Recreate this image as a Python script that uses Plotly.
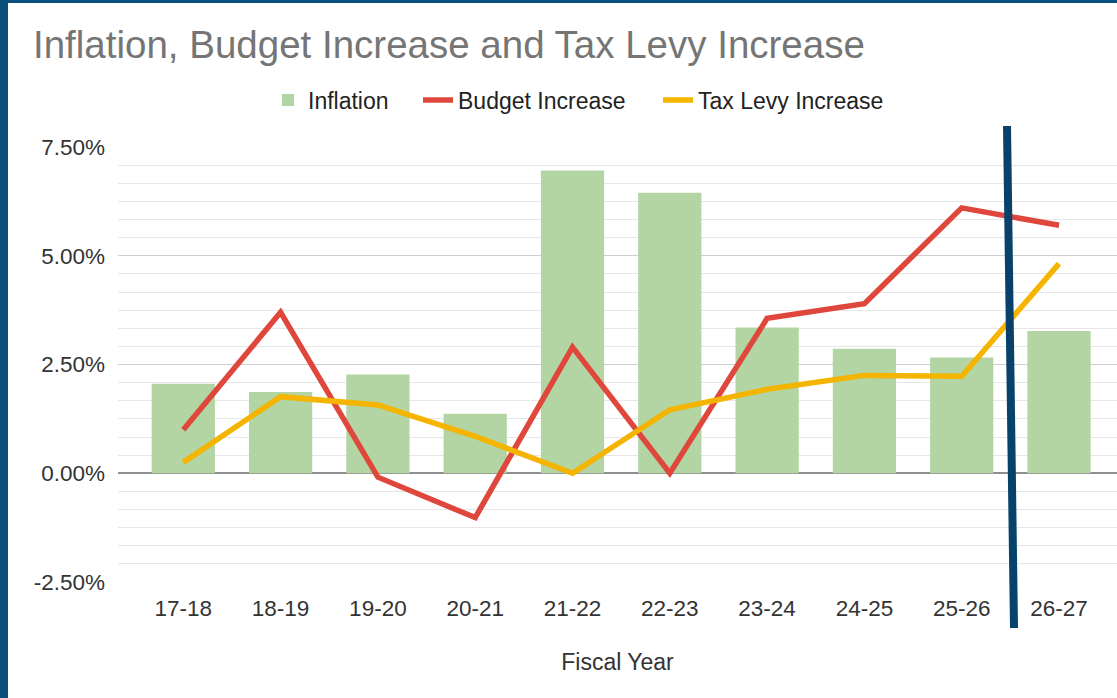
import plotly.graph_objects as go

years = ["17-18", "18-19", "19-20", "20-21", "21-22", "22-23", "23-24", "24-25", "25-26", "26-27"]
inflation = [2.06, 1.87, 2.27, 1.37, 6.96, 6.45, 3.35, 2.86, 2.66, 3.27]
budget_increase = [1.00, 3.70, -0.09, -1.02, 2.90, 0.00, 3.56, 3.90, 6.10, 5.70]
tax_levy_increase = [0.25, 1.76, 1.57, 0.85, 0.00, 1.46, 1.93, 2.25, 2.23, 4.82]
y_tick_values = [-2.5, 0, 2.5, 5, 7.5]
y_tick_labels = ["-2.50%", "0.00%", "2.50%", "5.00%", "7.50%"]

W, H = 1117, 698
L, R, T, B = 118, 0, 147, 116
PW, PH = W - L - R, H - T - B

def px(x):
    return (x - L) / PW

def py(y):
    return (H - B - y) / PH

FONT = "Liberation Sans, Arial, sans-serif"
BORDER = "#0a507d"

fig = go.Figure()
fig.add_trace(go.Bar(x=years, y=inflation, name="Inflation", marker_color="#b3d5a3",
                     marker_line_width=0, width=0.65, legend="legend"))
fig.add_trace(go.Scatter(x=years, y=budget_increase, name="Budget Increase", mode="lines",
                         line=dict(color="#e0473c", width=5.5), legend="legend2"))
fig.add_trace(go.Scatter(x=years, y=tax_levy_increase, name="Tax Levy Increase", mode="lines",
                         line=dict(color="#f4b400", width=5.5), legend="legend3"))

shapes = [
    dict(type="rect", xref="paper", yref="paper", x0=px(0), x1=px(8), y0=py(H), y1=py(0),
         fillcolor=BORDER, line_width=0, layer="above"),
    dict(type="rect", xref="paper", yref="paper", x0=px(0), x1=px(W), y0=py(3), y1=py(0),
         fillcolor=BORDER, line_width=0, layer="above"),
    dict(type="line", xref="paper", yref="paper", x0=px(1007), x1=px(1014), y0=py(126), y1=py(628),
         line=dict(color="#08416a", width=8), layer="above"),
]

def legend_at(left_px):
    return dict(orientation="h", x=px(left_px), xanchor="left", y=py(100), yanchor="middle",
                font=dict(family=FONT, size=23, color="#222222"),
                bgcolor="rgba(0,0,0,0)", itemwidth=30)

fig.update_layout(
    width=W, height=H,
    margin=dict(l=L, r=R, t=T, b=B, pad=0),
    paper_bgcolor="white", plot_bgcolor="white",
    font=dict(family=FONT, color="#444444", size=22),
    title=dict(text="Inflation, Budget Increase and Tax Levy Increase",
               x=33 / W, xanchor="left", xref="container",
               y=1 - 45 / H, yanchor="middle", yref="container",
               font=dict(family=FONT, size=38.5, color="#757575")),
    legend=legend_at(268),
    legend2=legend_at(418),
    legend3=legend_at(658),
    showlegend=True,
    shapes=shapes,
)

fig.update_xaxes(type="category", range=[-0.671, 9.596], showgrid=False, zeroline=False,
                 showline=False, ticks="", tickfont=dict(size=22.5, color="#333333"),
                 ticklabelstandoff=10,
                 title=dict(text="Fiscal Year", font=dict(size=23, color="#333333"), standoff=34))
fig.update_yaxes(range=[-2.5, 7.5], tickvals=y_tick_values, ticktext=y_tick_labels,
                 showgrid=True, gridcolor="#cfcfcf", gridwidth=1,
                 zeroline=True, zerolinecolor="#8f8f8f", zerolinewidth=2,
                 showline=False, ticks="", ticklabelstandoff=12,
                 tickfont=dict(size=22.5, color="#333333"),
                 minor=dict(dtick=2.5 / 6, tick0=0, showgrid=True, gridcolor="#e6e6e6", gridwidth=1))

fig.write_html("out.html", config={"displayModeBar": False},
               post_script="document.body.style.margin='0';document.body.style.overflow='hidden';")
